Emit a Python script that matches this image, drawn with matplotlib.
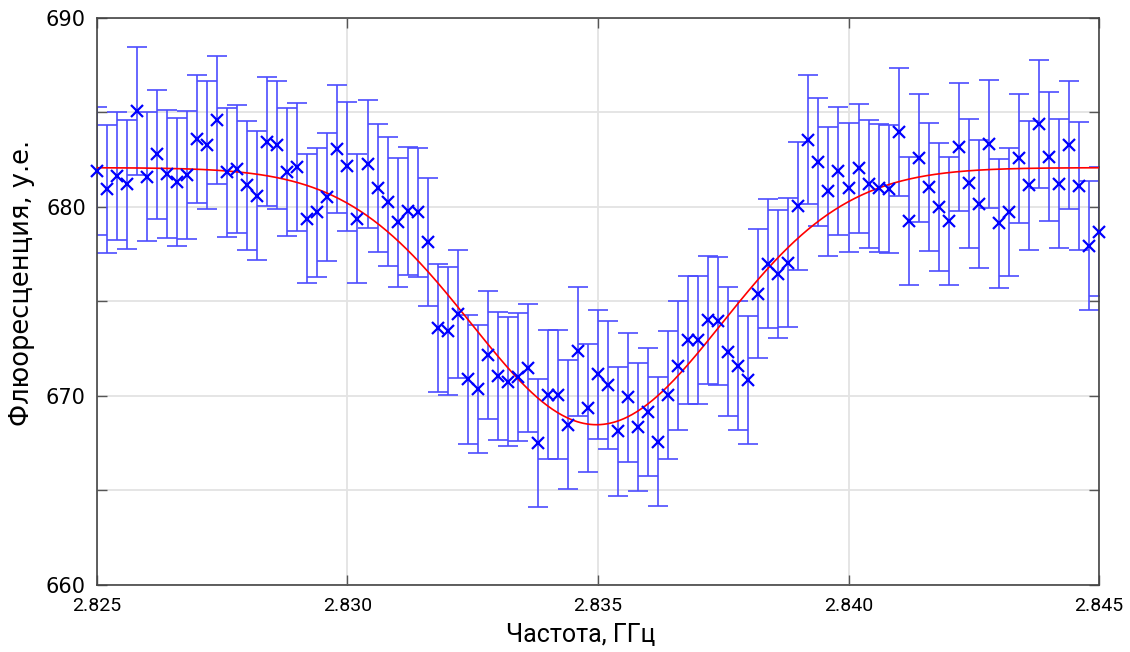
import numpy as np
import matplotlib
matplotlib.use("Agg")
import matplotlib.pyplot as plt
from matplotlib.ticker import MultipleLocator, FormatStrFormatter

# ---- data ----
freq = np.linspace(2.825, 2.845, 101)  # GHz, step 0.2 MHz
fluor = [
    681.91, 680.94, 681.63, 681.19, 685.09, 681.60, 682.78, 681.75, 681.31, 681.70,
    683.59, 683.29, 684.59, 681.83, 682.00, 681.15, 680.60, 683.46, 683.28, 681.86,
    682.11, 679.39, 679.71, 680.52, 683.06, 682.15, 679.39, 682.28, 681.01, 680.28,
    679.18, 679.80, 679.71, 678.16, 673.60, 673.43, 674.35, 670.88, 670.37, 672.18,
    671.07, 670.76, 671.01, 671.47, 667.51, 670.07, 670.07, 668.48, 672.36, 669.36,
    671.15, 670.58, 668.13, 669.92, 668.36, 669.16, 667.58, 670.04, 671.60, 672.95,
    672.95, 674.02, 673.98, 672.34, 671.60, 670.85, 675.42, 677.00, 676.46, 677.05,
    680.06, 683.57, 682.39, 680.82, 681.91, 681.03, 682.05, 681.21, 681.01, 680.96,
    683.97, 679.26, 682.58, 681.07, 679.99, 679.26, 683.17, 681.25, 680.17, 683.34,
    679.13, 679.74, 682.57, 681.14, 684.38, 682.67, 681.24, 683.28, 681.12, 677.96,
    678.69,
]
err = 3.4  # half-length of error bars, a.u.

# Gaussian fit parameters
fit_base = 682.08
fit_depth = 13.6
fit_center = 2.83497
fit_sigma = 0.0025

xticks = [2.825, 2.830, 2.835, 2.840, 2.845]
yticks = [660, 670, 680, 690]
xlabel = "Частота, ГГц"
ylabel = "Флюоресценция, у.е."

plt.rcParams["font.family"] = "DejaVu Sans"
plt.rcParams["xtick.labelsize"] = 14
plt.rcParams["ytick.labelsize"] = 15
plt.rcParams["xtick.major.pad"] = 9
plt.rcParams["ytick.major.pad"] = 8

# ---- figure ----
fig = plt.figure(figsize=(11.3, 6.52), dpi=100)
ax = fig.add_axes([0.0858, 0.1028, 0.8868, 0.8696])

ax.set_xlim(2.825, 2.845)
ax.set_ylim(660, 690)

ax.grid(True, which="both", color="#e3e3e3", linewidth=1.3, zorder=0)
ax.set_axisbelow(True)

ax.errorbar(freq, fluor, yerr=err, fmt="none", ecolor=(0.30, 0.30, 1.0),
            elinewidth=1.2, capsize=7.0, capthick=1.2, zorder=2)

xf = np.linspace(2.825, 2.845, 600)
yf = fit_base - fit_depth * np.exp(-(xf - fit_center) ** 2 / (2 * fit_sigma ** 2))
ax.plot(xf, yf, color="red", linewidth=1.2, zorder=3)

ax.plot(freq, fluor, linestyle="none", marker="x", color="#0000ff",
        markersize=8, markeredgewidth=1.6, zorder=4, clip_on=False)

ax.set_xticks(xticks)
ax.set_yticks(yticks)
ax.xaxis.set_major_formatter(FormatStrFormatter("%.3f"))
ax.yaxis.set_minor_locator(MultipleLocator(5))
ax.tick_params(axis="both", which="both", direction="in", length=7,
               width=1.0, color="#555555", top=True, right=True)

for lab in ax.get_xticklabels():
    lab.set_fontfamily("Roboto")

for s in ax.spines.values():
    s.set_color("#444444")
    s.set_linewidth(1.2)

ax.set_xlabel(xlabel, fontsize=18, family="Roboto")
ax.xaxis.set_label_coords(0.483, -0.067)
ax.set_ylabel(ylabel, fontsize=18.5, family="DejaVu Sans")
ax.yaxis.set_label_coords(-0.062, 0.532)

fig.savefig("out.png", dpi=100)
